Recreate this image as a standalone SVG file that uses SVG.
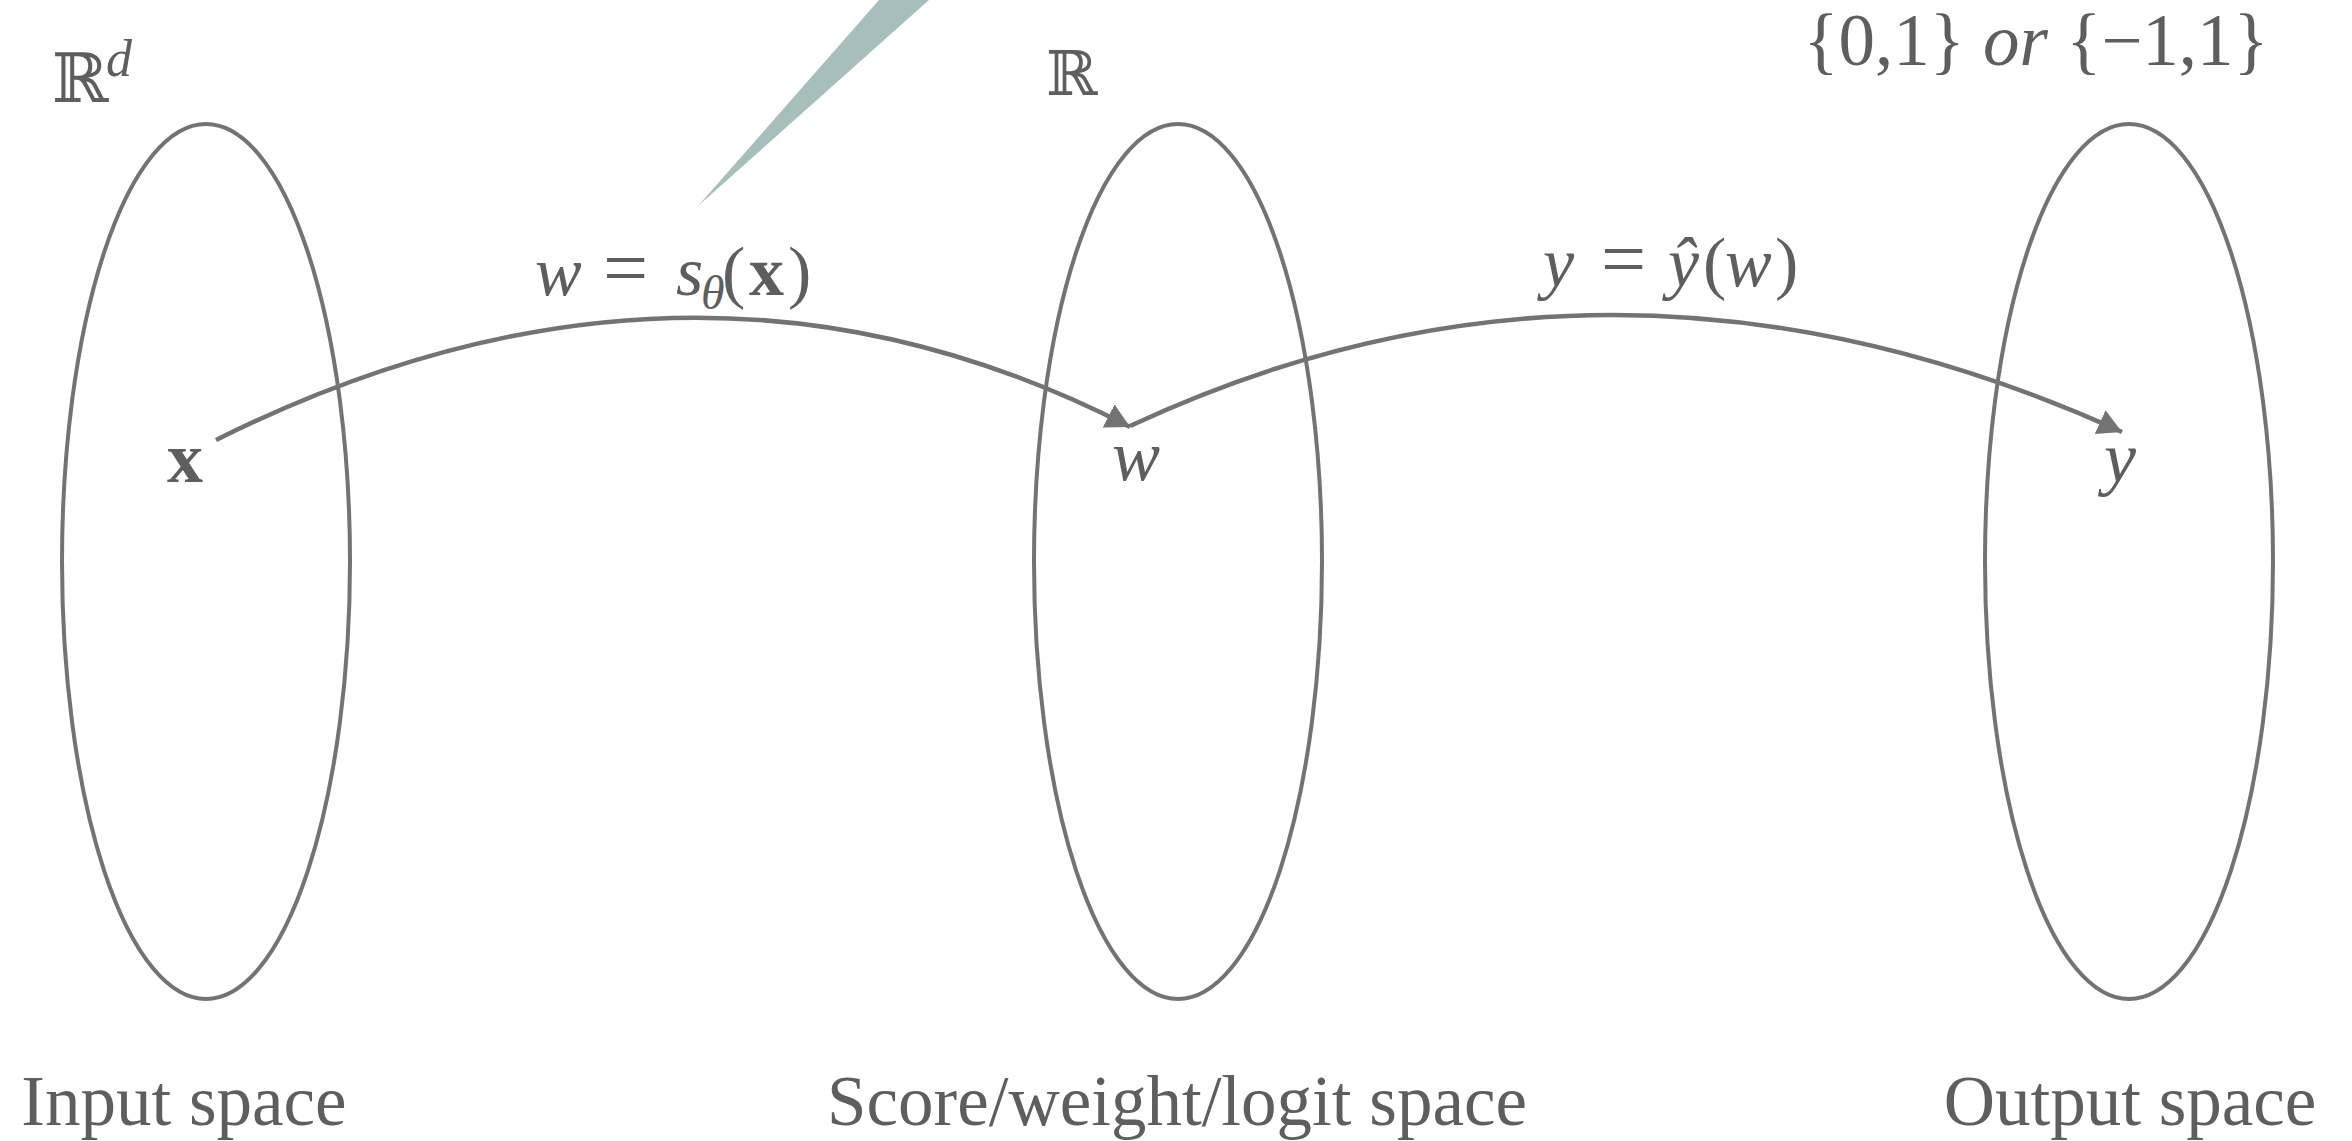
<svg xmlns="http://www.w3.org/2000/svg" width="2352" height="1141" viewBox="0 0 2352 1141">
<style>
.sp{fill:none;stroke:#737373;stroke-width:4}
.t{font-family:"Liberation Serif","Times New Roman",serif;fill:#5e5e5e}
.lbl{font-size:71px}
.it{font-style:italic}
.bf{font-weight:bold}
.ds{font-family:"DejaVu Serif","DejaVu Sans",serif;fill:#5e5e5e}
.conn{fill:none;stroke:#737373;stroke-width:4.5}
</style>
<defs>
<marker id="ah" markerUnits="userSpaceOnUse" markerWidth="30" markerHeight="30" refX="24" refY="13" orient="auto">
<path d="M0,0 L24,13 L0,26 z" fill="#737373"/>
</marker>
</defs>
<rect width="2352" height="1141" fill="#ffffff"/>
<polygon points="879,0 929,0 698,206" fill="#a6bfbd"/>
<g id="input-space">
<ellipse class="sp" cx="206" cy="561.5" rx="144" ry="437.5"/>
<text class="ds" x="52" y="102" font-size="68">ℝ</text>
<text class="t it" x="106" y="76" font-size="52">d</text>
<text class="t bf" x="167" y="482" font-size="72">x</text>
<text class="t lbl" x="184" y="1125" text-anchor="middle">Input space</text>
</g>
<g id="score-space">
<ellipse class="sp" cx="1178" cy="561.5" rx="144" ry="437.5"/>
<text class="ds" x="1046" y="95" font-size="62">ℝ</text>
<text class="t it" x="1112" y="480" font-size="72">w</text>
<text class="t lbl" x="1177" y="1125" text-anchor="middle">Score/weight/logit space</text>
</g>
<g id="output-space">
<ellipse class="sp" cx="2129" cy="561.5" rx="144" ry="437.5"/>
<text class="t" x="2036" y="65" font-size="73" text-anchor="middle">{0,1} <tspan class="it">or</tspan> {−1,1}</text>
<text class="t it" x="2104" y="482" font-size="72">y</text>
<text class="t lbl" x="2130" y="1125" text-anchor="middle">Output space</text>
</g>
<g id="connectors">
<path class="conn" d="M216,440 Q693,202 1130,427" marker-end="url(#ah)"/>
<path class="conn" d="M1130,426 Q1612,201 2122,432" marker-end="url(#ah)"/>
<text class="t" y="295" font-size="70"><tspan class="it" x="535">w</tspan><tspan x="603" font-size="80">=</tspan><tspan class="it" x="676">s</tspan><tspan class="it" x="701" dy="14" font-size="48">θ</tspan><tspan x="722" dy="-14">(</tspan><tspan class="bf" x="749">x</tspan><tspan x="788">)</tspan></text>
<text class="t" y="286" font-size="70"><tspan class="it" x="1543">y</tspan><tspan x="1601" font-size="80">=</tspan><tspan class="it" x="1668">ŷ</tspan><tspan x="1703">(</tspan><tspan class="it" x="1725">w</tspan><tspan x="1775">)</tspan></text>
</g>
</svg>
